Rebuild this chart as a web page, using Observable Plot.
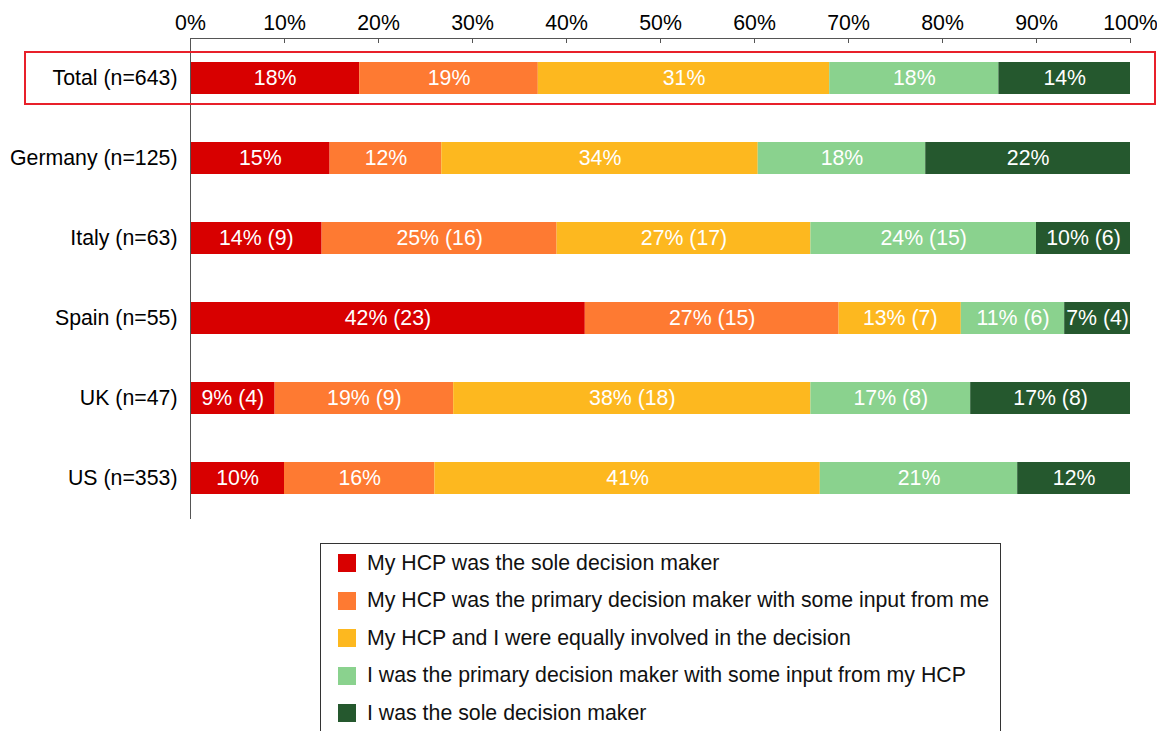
<!DOCTYPE html>
<html><head><meta charset="utf-8">
<script src="https://cdn.jsdelivr.net/npm/d3@7"></script>
<script src="https://cdn.jsdelivr.net/npm/@observablehq/plot@0.6"></script>
<style>
html,body{margin:0;padding:0;background:#fff;overflow:hidden;width:1157px;height:731px;font-family:"Liberation Sans",Arial,sans-serif;}
#chart{position:absolute;left:0;top:0;}
#legend{position:absolute;left:320px;top:543px;width:681px;height:230px;border:1px solid #333;box-sizing:border-box;background:#fff;}
.item{position:absolute;left:17px;height:22px;display:flex;align-items:center;font-size:21.3px;color:#111;white-space:nowrap;}
.sw{width:18px;height:18px;margin-right:11px;box-sizing:border-box;}
</style></head><body>
<div id="chart"></div><div id="legend"></div>
<script>
const categories = ["Total (n=643)", "Germany (n=125)", "Italy (n=63)", "Spain (n=55)", "UK (n=47)", "US (n=353)"];
const responses = [
  "My HCP was the sole decision maker",
  "My HCP was the primary decision maker with some input from me",
  "My HCP and I were equally involved in the decision",
  "I was the primary decision maker with some input from my HCP",
  "I was the sole decision maker"
];
const colors = ["#d80000", "#fe7a32", "#fdb81f", "#8ad28e", "#25582e"];
const xTicks = [0, 0.1, 0.2, 0.3, 0.4, 0.5, 0.6, 0.7, 0.8, 0.9, 1];

// percentages per category (in response order)
const totalPct   = [18, 19, 31, 18, 14];
const germanyPct = [15, 12, 34, 18, 22];
const italyPct   = [14, 25, 27, 24, 10];
const spainPct   = [42, 27, 13, 11, 7];
const ukPct      = [9, 19, 38, 17, 17];
const usPct      = [10, 16, 41, 21, 12];
// respondent counts shown in labels (null = not shown)
const totalN   = null;
const germanyN = null;
const italyN   = [9, 16, 17, 15, 6];
const spainN   = [23, 15, 7, 6, 4];
const ukN      = [4, 9, 18, 8, 8];
const usN      = null;

const pctRows = [totalPct, germanyPct, italyPct, spainPct, ukPct, usPct];
const nRows = [totalN, germanyN, italyN, spainN, ukN, usN];

const rows = [];
categories.forEach((cat, i) => {
  responses.forEach((resp, j) => {
    const p = pctRows[i][j];
    const n = nRows[i] ? nRows[i][j] : null;
    rows.push({cat, resp, pct: p, label: n == null ? `${p}%` : `${p}% (${n})`});
  });
});

const FS = 21.3;
const plot = Plot.plot({
  width: 1157, height: 540,
  marginLeft: 190, marginRight: 27, marginTop: 38, marginBottom: 22,
  style: {fontFamily: "'Liberation Sans', Arial, sans-serif", fontSize: FS + "px", color: "#000", background: "white", overflow: "visible"},
  x: {domain: [0, 1], label: null},
  y: {domain: categories, paddingInner: 0.6, paddingOuter: 0.3, label: null},
  color: {domain: responses, range: colors},
  marks: [
    Plot.barX(rows, Plot.stackX({x: "pct", y: "cat", fill: "resp", offset: "normalize", order: responses})),
    Plot.text(rows, Plot.stackX({x: "pct", y: "cat", z: "resp", text: "label", offset: "normalize", order: responses, fill: "white", fontSize: FS})),
    Plot.frame({anchor: "top", stroke: "#555"}),
    Plot.frame({anchor: "left", stroke: "#555"}),
    Plot.axisX(xTicks, {anchor: "top", tickSize: 0, tickPadding: 9, fontSize: FS, tickFormat: d3.format(".0%"), fill: "#000"}),
    Plot.axisX(xTicks, {anchor: "top", tickSize: -4, tickFormat: () => "", stroke: "#555"}),
    Plot.axisY({tickSize: 0, tickPadding: 13, fontSize: FS, fill: "#000"}),
    Plot.barX([categories[0]], {y: d => d, x1: 0, x2: 1, fill: "none", stroke: "#e8202a", strokeWidth: 2,
      insetLeft: -165, insetRight: -25, insetTop: -10, insetBottom: -10})
  ]
});
document.getElementById("chart").appendChild(plot);

const legend = document.getElementById("legend");
responses.forEach((r, i) => {
  const it = document.createElement("div");
  it.className = "item";
  it.style.top = (8 + i * 37.5) + "px";
  const sw = document.createElement("span");
  sw.className = "sw";
  sw.style.background = colors[i];
  it.appendChild(sw);
  it.appendChild(document.createTextNode(r));
  legend.appendChild(it);
});
</script>
</body></html>
